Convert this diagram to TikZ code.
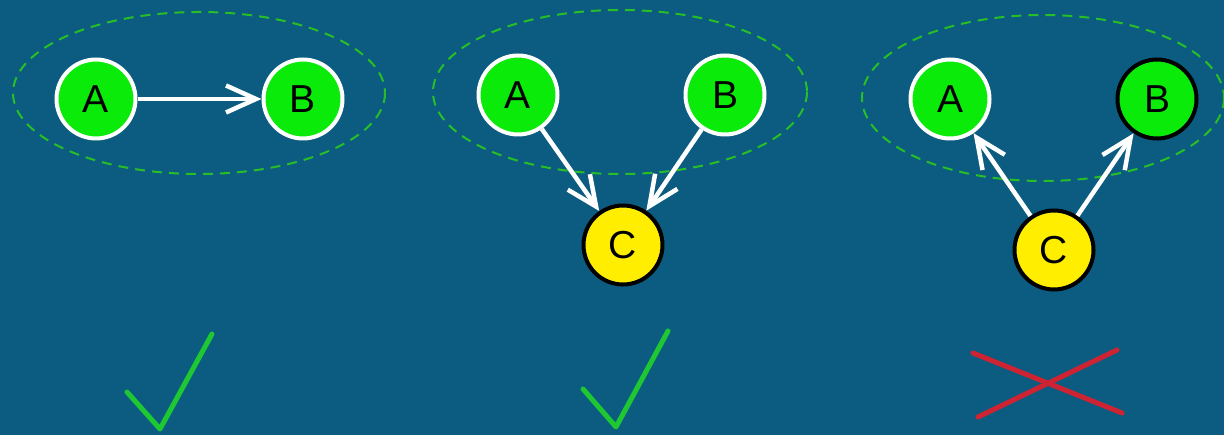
\documentclass[tikz,border=0pt]{standalone}
\usepackage{fontspec}
\setmainfont{Liberation Sans}
\usetikzlibrary{arrows.meta}
\definecolor{bg}{RGB}{11,92,128}
\definecolor{nodegreen}{RGB}{10,235,10}
\definecolor{nodeyellow}{RGB}{255,238,0}
\definecolor{dashgreen}{RGB}{40,190,40}
\definecolor{checkgreen}{RGB}{30,200,50}
\definecolor{crossred}{RGB}{205,35,50}
\tikzset{
  vnode/.style={circle, minimum size=79pt, inner sep=0pt, line width=4pt,
    font=\fontsize{39}{39}\selectfont},
  gwhite/.style={vnode, fill=nodegreen, draw=white},
  gblack/.style={vnode, fill=nodegreen, draw=black},
  yblack/.style={vnode, fill=nodeyellow, draw=black},
  edge/.style={draw=white, line width=4.5pt,
    -{Straight Barb[length=30pt,width=27pt,line width=4.5pt]}},
  group/.style={draw=dashgreen, line width=2pt, dash pattern=on 10pt off 7pt},
  markline/.style={line width=5pt, line cap=round, line join=round}
}
\begin{document}
\begin{tikzpicture}[x=1pt,y=-1pt]
\useasboundingbox (0,0) rectangle (1224,435);
\fill[bg] (0,0) rectangle (1224,435);
% panel 1
\draw[group] (199,93) ellipse [x radius=186, y radius=81];
\node[gwhite] (a1) at (96,99) {A};
\node[gwhite] (b1) at (303,99) {B};
\draw[edge] (a1) -- (b1);
% panel 2
\draw[group] (620,92) ellipse [x radius=187, y radius=82];
\node[gwhite] (a2) at (518,95) {A};
\node[gwhite] (b2) at (725,95) {B};
\node[yblack] (c2) at (623,245) {C};
\draw[edge] (a2) -- (c2);
\draw[edge] (b2) -- (c2);
% panel 3
\draw[group] (1043,98) ellipse [x radius=181, y radius=83];
\node[gwhite] (a3) at (950,99) {A};
\node[gblack] (b3) at (1157,99) {B};
\node[yblack] (c3) at (1054,250) {C};
\draw[edge] (c3) -- (a3);
\draw[edge] (c3) -- (b3);
% marks
\coordinate (k1a) at (127,392);
\coordinate (k1b) at (160,429);
\coordinate (k1c) at (212,334);
\draw[markline, checkgreen] (k1a) -- (k1b) -- (k1c);
\coordinate (k2a) at (583,389);
\coordinate (k2b) at (616,427);
\coordinate (k2c) at (668,331);
\draw[markline, checkgreen] (k2a) -- (k2b) -- (k2c);
\coordinate (x1a) at (973,353);
\coordinate (x1b) at (1122,413);
\coordinate (x2a) at (978,417);
\coordinate (x2b) at (1117,350);
\draw[markline, crossred] (x1a) -- (x1b);
\draw[markline, crossred] (x2a) -- (x2b);
\end{tikzpicture}
\end{document}
